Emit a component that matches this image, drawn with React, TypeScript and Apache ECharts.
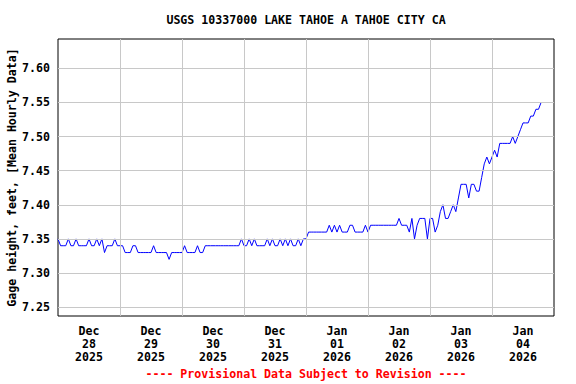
import React, { useEffect, useRef } from "react";
import * as echarts from "echarts";

const TITLE = "USGS 10337000 LAKE TAHOE A TAHOE CITY CA";
const FOOTER = "---- Provisional Data Subject to Revision ----";
const Y_NAME = "Gage height, feet, [Mean Hourly Data]";

// x labels centred at noon of each day (hours since Dec 28 2025 00:00)
const X_LABELS = [
  "Dec\n28\n2025",
  "Dec\n29\n2025",
  "Dec\n30\n2025",
  "Dec\n31\n2025",
  "Jan\n01\n2026",
  "Jan\n02\n2026",
  "Jan\n03\n2026",
  "Jan\n04\n2026",
];
const X_LABEL_HOURS = [12, 36, 60, 84, 108, 132, 156, 180];
const DAY_LINES = [24, 48, 72, 96, 120, 144, 168];
const Y_TICKS = [7.25, 7.3, 7.35, 7.4, 7.45, 7.5, 7.55, 7.6];

// hourly gage height, starting Dec 28 2025 00:00
const GAGE = [
  // Dec 28
  7.35, 7.34, 7.34, 7.34, 7.35, 7.34, 7.34, 7.35, 7.34, 7.34, 7.34, 7.34,
  7.35, 7.34, 7.34, 7.35, 7.34, 7.35, 7.33, 7.34, 7.34, 7.34, 7.35, 7.34,
  // Dec 29
  7.34, 7.34, 7.33, 7.33, 7.33, 7.34, 7.34, 7.33, 7.33, 7.33, 7.33, 7.33,
  7.33, 7.34, 7.33, 7.33, 7.33, 7.33, 7.33, 7.32, 7.33, 7.33, 7.33, 7.33,
  // Dec 30
  7.33, 7.34, 7.33, 7.33, 7.33, 7.33, 7.34, 7.33, 7.33, 7.34, 7.34, 7.34,
  7.34, 7.34, 7.34, 7.34, 7.34, 7.34, 7.34, 7.34, 7.34, 7.34, 7.34, 7.35,
  // Dec 31
  7.34, 7.34, 7.35, 7.34, 7.35, 7.34, 7.34, 7.34, 7.34, 7.35, 7.34, 7.35,
  7.34, 7.34, 7.35, 7.34, 7.35, 7.34, 7.35, 7.34, 7.34, 7.35, 7.34, 7.35,
  // Jan 01
  7.35, 7.36, 7.36, 7.36, 7.36, 7.36, 7.36, 7.36, 7.36, 7.37, 7.36, 7.37,
  7.36, 7.37, 7.36, 7.36, 7.36, 7.37, 7.37, 7.36, 7.36, 7.36, 7.36, 7.37,
  // Jan 02
  7.36, 7.37, 7.37, 7.37, 7.37, 7.37, 7.37, 7.37, 7.37, 7.37, 7.37, 7.37,
  7.38, 7.37, 7.37, 7.37, 7.36, 7.38, 7.35, 7.37, 7.38, 7.38, 7.38, 7.35,
  // Jan 03
  7.38, 7.38, 7.36, 7.37, 7.39, 7.40, 7.38, 7.38, 7.39, 7.40, 7.39, 7.41,
  7.43, 7.43, 7.43, 7.41, 7.43, 7.43, 7.42, 7.42, 7.44, 7.46, 7.47, 7.46,
  // Jan 04
  7.47, 7.48, 7.47, 7.49, 7.49, 7.49, 7.49, 7.49, 7.50, 7.49, 7.50, 7.51,
  7.52, 7.52, 7.52, 7.53, 7.53, 7.54, 7.54, 7.55,
];

const FONT = "'DejaVu Sans Mono', 'Liberation Mono', monospace";

export default function App() {
  const ref = useRef<HTMLDivElement>(null);
  useEffect(() => {
    if (!ref.current) return;
    const chart = echarts.init(ref.current, undefined, { renderer: "svg" });
    const textBase = {
      fontFamily: FONT,
      fontWeight: "bold" as const,
      fontSize: 11.6,
      color: "#000",
    };
    chart.setOption({
      animation: false,
      backgroundColor: "#fff",
      title: [
        {
          text: TITLE,
          left: 306,
          textAlign: "center",
          top: 14,
          padding: 0,
          textStyle: { ...textBase },
        },
        {
          text: FOOTER,
          left: 306,
          textAlign: "center",
          top: 368,
          padding: 0,
          textStyle: { ...textBase, color: "#ff0000" },
        },
      ],
      grid: {
        left: 58,
        top: 39,
        width: 496,
        height: 277,
        show: true,
        outerBoundsMode: "none",
        containLabel: false,
        borderColor: "#000",
        borderWidth: 1,
        backgroundColor: "transparent",
      },
      xAxis: {
        type: "value",
        min: 0,
        max: 192,
        interval: 12,
        axisLine: { show: false },
        axisTick: { show: false },
        splitLine: { show: false },
        axisLabel: {
          ...textBase,
          margin: 8,
          lineHeight: 13,
          align: "center",
          showMinLabel: true,
          showMaxLabel: true,
          formatter: (v: number) => {
            const i = X_LABEL_HOURS.indexOf(v);
            return i >= 0 ? X_LABELS[i] : "";
          },
        },
      },
      yAxis: {
        type: "value",
        min: 7.237,
        max: 7.643,
        axisLine: { show: false },
        axisTick: { show: false },
        splitLine: { show: false },
        name: Y_NAME,
        nameLocation: "middle",
        nameGap: 40,
        nameMoveOverlap: false,
        nameRotate: 90,
        nameTextStyle: { ...textBase },
        axisLabel: {
          ...textBase,
          margin: 8,
          customValues: Y_TICKS,
          formatter: (v: number) => v.toFixed(2),
        },
      },
      series: [
        {
          type: "line",
          data: [],
          z: 1,
          silent: true,
          markLine: {
            silent: true,
            symbol: ["none", "none"],
            label: { show: false },
            lineStyle: { color: "#c8c8c8", type: "solid", width: 1 },
            data: [
              ...Y_TICKS.map((y) => ({ yAxis: y })),
              ...DAY_LINES.map((x) => ({ xAxis: x })),
            ],
          },
        },
        {
          type: "line",
          z: 3,
          data: GAGE.map((v, i) => [i, v]),
          showSymbol: false,
          symbol: "none",
          lineStyle: { color: "#0000ff", width: 1 },
        },
      ],
    });
    return () => chart.dispose();
  }, []);
  return (
    <div
      ref={ref}
      style={{ position: "fixed", left: 0, top: 0, width: 576, height: 384 }}
    />
  );
}
